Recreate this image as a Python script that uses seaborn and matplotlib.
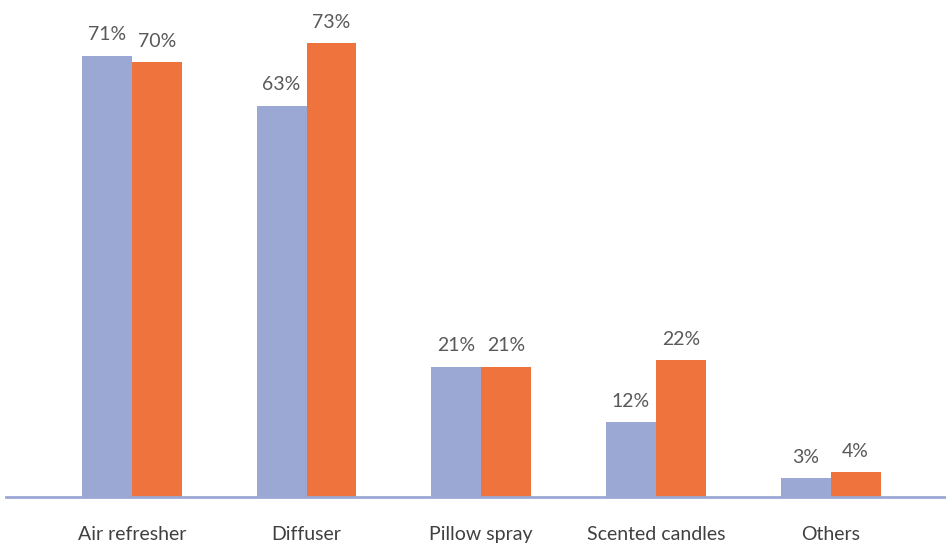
import matplotlib
matplotlib.use("Agg")
import matplotlib.pyplot as plt
import seaborn as sns
import pandas as pd

categories = ["Air refresher", "Diffuser", "Pillow spray", "Scented candles", "Others"]
series_a = [71, 63, 21, 12, 3]
series_b = [70, 73, 21, 22, 4]
series_names = ["Series A", "Series B"]
colors = ["#9BA8D4", "#EF733C"]

df = pd.DataFrame({
    "category": categories * 2,
    "value": series_a + series_b,
    "series": [series_names[0]] * len(categories) + [series_names[1]] * len(categories),
})

sns.set_theme(style="white")
plt.rcParams["font.family"] = ["Lato", "DejaVu Sans"]

W, H = 946, 543
fig = plt.figure(figsize=(W / 100, H / 100), dpi=100)
ax = fig.add_axes([6 / W, (H - 497) / H, (946 - 6) / W, 497 / H])

sns.barplot(data=df, x="category", y="value", hue="series", order=categories,
            hue_order=series_names, palette=colors, width=0.572, gap=0,
            saturation=1, legend=False, ax=ax, edgecolor="none", linewidth=0)

for cont in ax.containers:
    ax.bar_label(cont, labels=[f"{v:.0f}%" for v in cont.datavalues],
                 padding=9, fontsize=14, color="#595959")

ax.set_xlim(-0.72, 4.66)
ax.set_ylim(0, 80)
ax.set_xlabel("")
ax.set_ylabel("")
ax.set_yticks([])
for s in ["top", "right", "left"]:
    ax.spines[s].set_visible(False)
ax.spines["bottom"].set_color("#9BA8D4")
ax.spines["bottom"].set_linewidth(2)
ax.tick_params(axis="x", length=0, pad=21, labelsize=14, labelcolor="#404040")

fig.savefig("out.png", dpi=100)
